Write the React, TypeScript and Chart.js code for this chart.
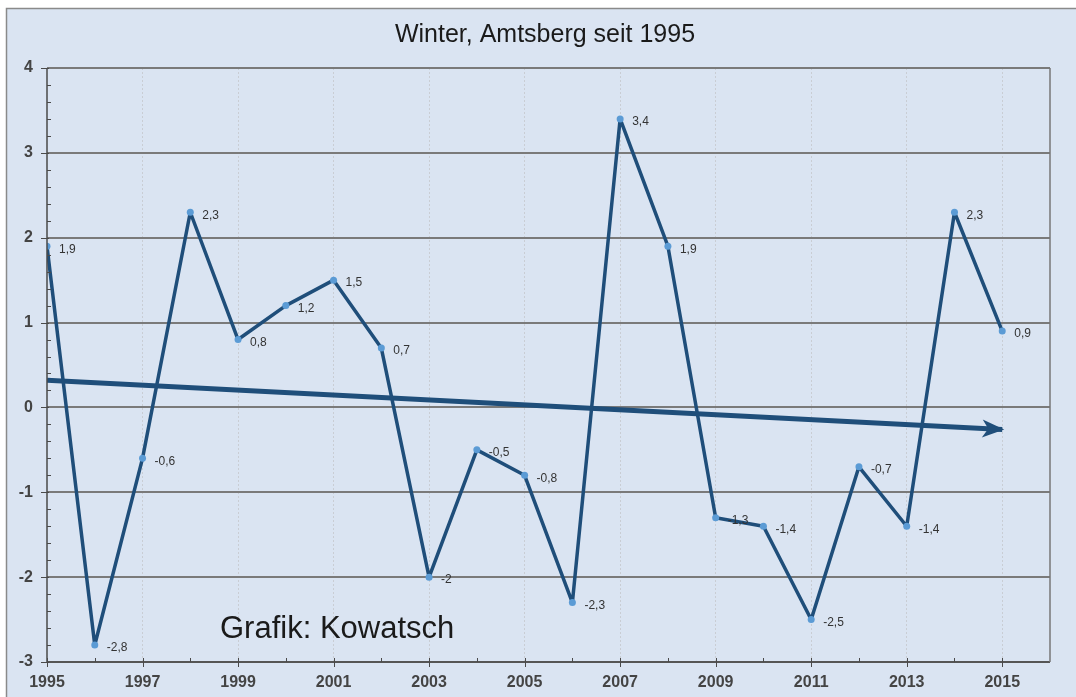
import React, { useEffect, useRef } from "react";
import { Chart, registerables } from "chart.js";

Chart.register(...registerables);

const years = [1995, 1996, 1997, 1998, 1999, 2000, 2001, 2002, 2003, 2004, 2005, 2006, 2007, 2008, 2009, 2010, 2011, 2012, 2013, 2014, 2015];
const values = [1.9, -2.8, -0.6, 2.3, 0.8, 1.2, 1.5, 0.7, -2, -0.5, -0.8, -2.3, 3.4, 1.9, -1.3, -1.4, -2.5, -0.7, -1.4, 2.3, 0.9];
const trendYears = [1995, 2015];
const trendValues = [0.32, -0.26];
const yTicks = [-3, -2, -1, 0, 1, 2, 3, 4];
const titleText = "Winter, Amtsberg seit 1995";
const creditText = "Grafik: Kowatsch";

const LINE = "#1f4e7a";
const POINT = "#5b9bd5";
const BG = "#dae4f2";
const FONT = "'Liberation Sans', Arial, sans-serif";

const fmt = (v: number) => String(v).replace(".", ",");

const decorPlugin = {
  id: "decor",
  beforeDraw(chart: any) {
    const { ctx, width, height } = chart;
    ctx.save();
    ctx.fillStyle = "#ffffff";
    ctx.fillRect(0, 0, width, height);
    ctx.fillStyle = BG;
    ctx.fillRect(6, 8, width - 6, height - 8);
    ctx.strokeStyle = "#8a8a8a";
    ctx.lineWidth = 1.5;
    ctx.beginPath();
    ctx.moveTo(6.5, height);
    ctx.lineTo(6.5, 8.5);
    ctx.lineTo(width, 8.5);
    ctx.stroke();
    ctx.restore();
  },
  afterDatasetsDraw(chart: any) {
    const { ctx, chartArea } = chart;
    const xs = chart.scales.x;
    const ys = chart.scales.y;
    ctx.save();
    ctx.strokeStyle = "#4a4a4a";
    ctx.lineWidth = 1.5;
    ctx.beginPath();
    ctx.moveTo(chartArea.left, chartArea.top);
    ctx.lineTo(chartArea.left, chartArea.bottom);
    ctx.lineTo(chartArea.right, chartArea.bottom);
    ctx.stroke();
    ctx.strokeStyle = "#777";
    ctx.beginPath();
    ctx.moveTo(chartArea.right, chartArea.top);
    ctx.lineTo(chartArea.right, chartArea.bottom);
    ctx.stroke();
    ctx.strokeStyle = "#4a4a4a";
    ctx.lineWidth = 1;
    for (let v = -3; v <= 4.0001; v += 0.2) {
      const y = Math.round(ys.getPixelForValue(v)) + 0.5;
      const major = Math.abs(v - Math.round(v)) < 0.01;
      ctx.beginPath();
      if (major) {
        ctx.moveTo(chartArea.left - 6, y);
        ctx.lineTo(chartArea.left + 2, y);
      } else {
        ctx.moveTo(chartArea.left, y);
        ctx.lineTo(chartArea.left + 4, y);
      }
      ctx.stroke();
    }
    for (let yr = 1995; yr <= 2015; yr++) {
      const x = Math.round(xs.getPixelForValue(yr)) + 0.5;
      const major = (yr - 1995) % 2 === 0;
      ctx.beginPath();
      if (major) {
        ctx.moveTo(x, chartArea.bottom - 4);
        ctx.lineTo(x, chartArea.bottom + 5);
      } else {
        ctx.moveTo(x, chartArea.bottom);
        ctx.lineTo(x, chartArea.bottom - 4);
      }
      ctx.stroke();
    }
    const meta = chart.getDatasetMeta(1);
    const p0 = meta.data[0];
    const p1 = meta.data[meta.data.length - 1];
    const ang = Math.atan2(p1.y - p0.y, p1.x - p0.x);
    const c = Math.cos(ang), s = Math.sin(ang);
    const L = 20, W = 9, N = 14;
    ctx.fillStyle = LINE;
    ctx.beginPath();
    ctx.moveTo(p1.x + 2 * c, p1.y + 2 * s);
    ctx.lineTo(p1.x - L * c + W * s, p1.y - L * s - W * c);
    ctx.lineTo(p1.x - N * c, p1.y - N * s);
    ctx.lineTo(p1.x - L * c - W * s, p1.y - L * s + W * c);
    ctx.closePath();
    ctx.fill();
    const m0 = chart.getDatasetMeta(0);
    ctx.fillStyle = "#333";
    ctx.font = "12px " + FONT;
    ctx.textAlign = "left";
    ctx.textBaseline = "middle";
    m0.data.forEach((pt: any, i: number) => {
      ctx.fillText(fmt(values[i]), pt.x + 12, pt.y + 3);
    });
    ctx.fillStyle = "#1a1a1a";
    ctx.font = "25px " + FONT;
    ctx.textAlign = "center";
    ctx.fillText(titleText, 545, 35);
    ctx.font = "31px " + FONT;
    ctx.textAlign = "left";
    ctx.fillText(creditText, 220, 629);
    ctx.restore();
  },
};

export default function App() {
  const ref = useRef<HTMLCanvasElement | null>(null);
  useEffect(() => {
    if (!ref.current) return;
    const chart = new Chart(ref.current, {
      type: "line",
      data: {
        datasets: [
          {
            data: years.map((y, i) => ({ x: y, y: values[i] })),
            borderColor: LINE,
            borderWidth: 3.5,
            borderJoinStyle: "round",
            borderCapStyle: "round",
            pointRadius: 3.5,
            pointBackgroundColor: POINT,
            pointBorderColor: POINT,
            pointBorderWidth: 0,
            tension: 0,
          },
          {
            data: trendYears.map((y, i) => ({ x: y, y: trendValues[i] })),
            borderColor: LINE,
            borderWidth: 5,
            pointRadius: 0,
            tension: 0,
          },
        ],
      },
      plugins: [decorPlugin],
      options: {
        animation: false,
        responsive: false,
        layout: { padding: { top: 68, right: 26, left: 0, bottom: 0 } },
        plugins: { legend: { display: false }, tooltip: { enabled: false }, title: { display: false } },
        scales: {
          x: {
            type: "linear",
            min: 1995,
            max: 2016,
            afterFit: (s: any) => { s.height = 35; },
            ticks: {
              stepSize: 1,
              autoSkip: false,
              maxRotation: 0,
              padding: 11,
              color: "#444",
              font: { size: 16, weight: "bold", family: FONT },
              callback: (v: any) => ((v - 1995) % 2 === 0 && v <= 2015 ? String(v) : ""),
            },
            grid: {
              drawTicks: false,
              color: (c: any) => (c.tick && (c.tick.value - 1995) % 2 === 0 && c.tick.value > 1995 && c.tick.value < 2016 ? "#c9cdd4" : "transparent"),
              lineWidth: 1,
            },
            border: { display: false, dash: [2, 2] },
          },
          y: {
            min: -3,
            max: 4,
            afterFit: (s: any) => { s.width = 47; },
            afterBuildTicks: (s: any) => { s.ticks = yTicks.map((v) => ({ value: v })); },
            ticks: {
              padding: 14,
              color: "#444",
              font: { size: 16, weight: "bold", family: FONT },
              callback: (v: any) => String(v),
            },
            grid: { drawTicks: false, color: "#7a7a7a", lineWidth: 2 },
            border: { display: false },
          },
        },
      },
    } as any);
    return () => chart.destroy();
  }, []);
  return (
    <div style={{ position: "fixed", left: 0, top: 0, width: 1076, height: 697 }}>
      <canvas ref={ref} width={1076} height={697} style={{ display: "block", width: 1076, height: 697 }} />
    </div>
  );
}
